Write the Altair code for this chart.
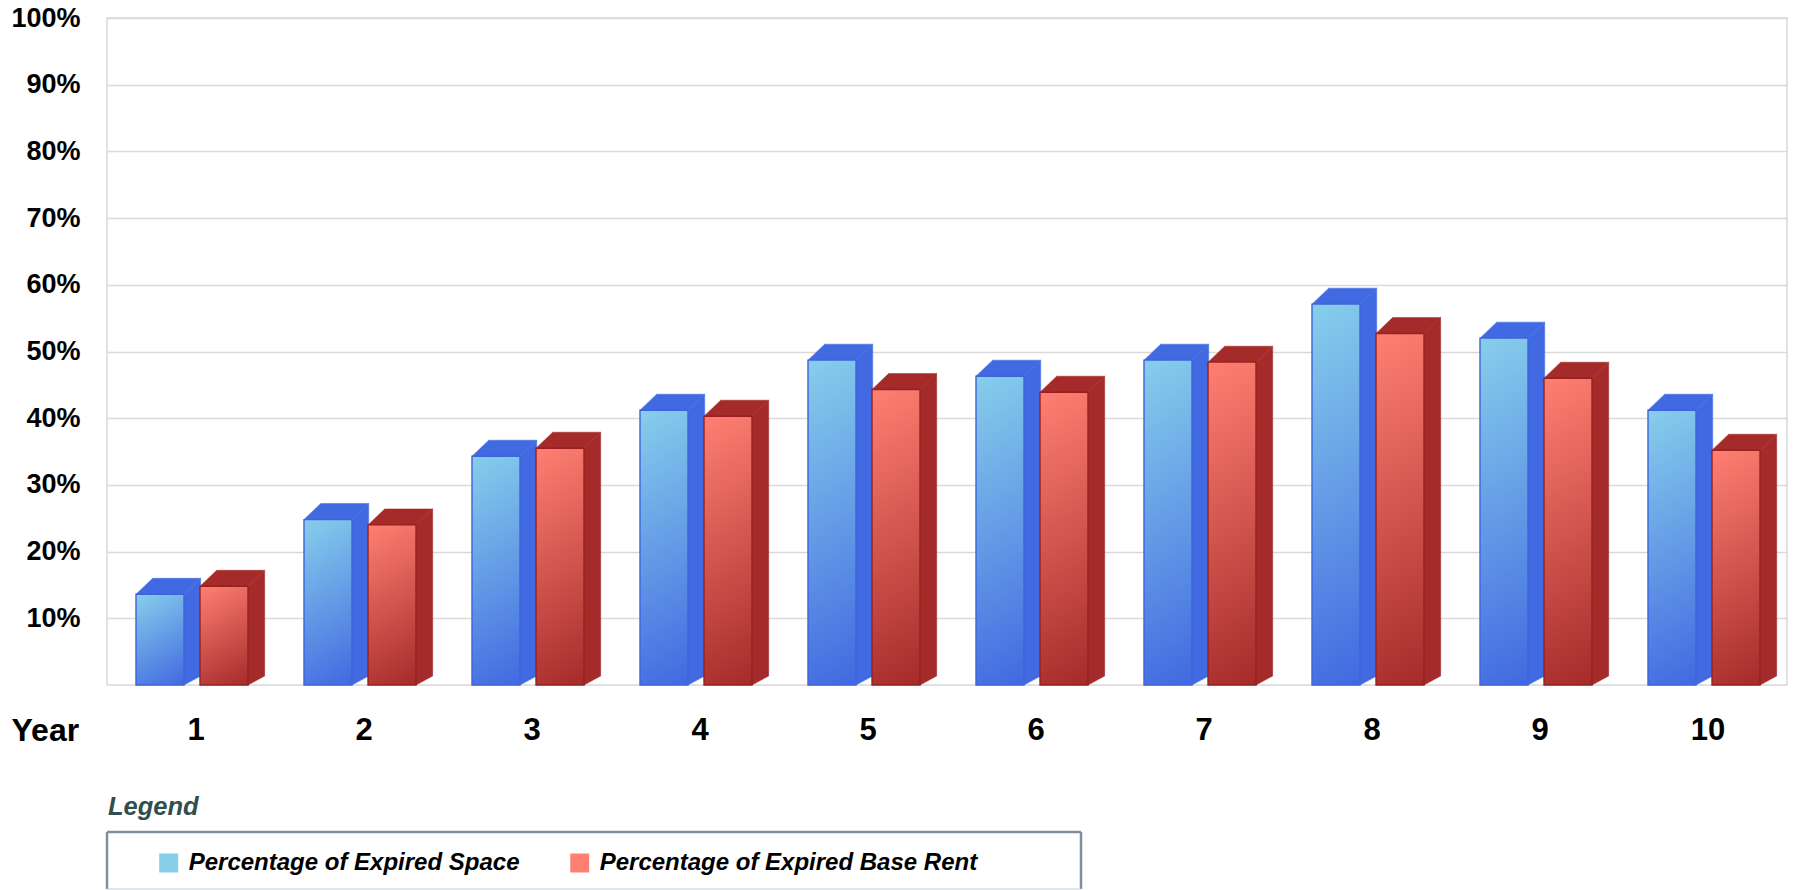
import altair as alt
import pandas as pd

years = [1, 2, 3, 4, 5, 6, 7, 8, 9, 10]
expired_space = [13.6, 24.8, 34.3, 41.2, 48.7, 46.3, 48.7, 57.1, 52.0, 41.2]
expired_rent = [14.8, 24.0, 35.5, 40.3, 44.3, 43.9, 48.4, 52.7, 46.0, 35.2]
space_name = "Percentage of Expired Space"
rent_name = "Percentage of Expired Base Rent"
pct_ticks = [10, 20, 30, 40, 50, 60, 70, 80, 90, 100]

FONT = "Liberation Sans"

# Bar placement inside each year's slot, in year units, and the extrusion depth.
SPACE_START, RENT_START, BAR_WIDTH = -0.3274, 0.0536, 0.2857
DEPTH_X, DEPTH_Y, BASE_RISE = 0.0994, 2.4, 1.35

# Shading runs at a fixed slant, so shorter bars show a stronger diagonal.
SHADE_SLANT = 4.3  # percent of height per bar width


def front_faces(values, start):
    return pd.DataFrame(
        [
            {"year": y, "x0": y + start, "x1": y + start + BAR_WIDTH, "top": v, "base": 0}
            for y, v in zip(years, values)
        ]
    )


def extruded_faces(values, start):
    rows = []
    for y, v in zip(years, values):
        x0 = y + start
        x1 = x0 + BAR_WIDTH
        # Roof parallelogram
        for x, lo, hi in [
            (x0, v, v),
            (x0 + DEPTH_X, v, v + DEPTH_Y),
            (x1, v, v + DEPTH_Y),
            (x1 + DEPTH_X, v + DEPTH_Y, v + DEPTH_Y),
        ]:
            rows.append({"face": f"roof-{y}", "x": x, "lo": lo, "hi": hi})
        # Right-hand side parallelogram
        for x, lo, hi in [(x1, 0, v), (x1 + DEPTH_X, BASE_RISE, v + DEPTH_Y)]:
            rows.append({"face": f"side-{y}", "x": x, "lo": lo, "hi": hi})
    return pd.DataFrame(rows)


x_scale = alt.Scale(domain=[0.5, 10.5], nice=False, zero=False)
y_scale = alt.Scale(domain=[0, 100], nice=False)


def shaded_bar(row, light, dark, edge):
    a = SHADE_SLANT / row["top"]
    s = (a + 1) / (a * a + 1)
    return (
        alt.Chart(pd.DataFrame([row]))
        .mark_rect(
            fill=alt.Gradient(
                gradient="linear",
                x1=0,
                y1=0,
                x2=a * s,
                y2=s,
                stops=[
                    alt.GradientStop(color=light, offset=0),
                    alt.GradientStop(color=dark, offset=1),
                ],
            ),
            stroke=edge,
            strokeWidth=1.4,
        )
        .encode(
            x=alt.X("x0:Q", scale=x_scale),
            x2="x1:Q",
            y=alt.Y("top:Q", scale=y_scale),
            y2="base:Q",
        )
    )


def series_layers(name, values, start, light, dark, edge):
    faces = (
        alt.Chart(extruded_faces(values, start))
        .mark_area(orient="vertical", color=dark, stroke=dark, strokeWidth=0.5)
        .encode(
            x=alt.X("x:Q", scale=x_scale),
            y=alt.Y("hi:Q", scale=y_scale),
            y2="lo:Q",
            detail="face:N",
        )
    )
    front = front_faces(values, start).assign(series=name)
    solid = (
        alt.Chart(front)
        .mark_rect()
        .encode(
            x=alt.X("x0:Q", scale=x_scale),
            x2="x1:Q",
            y=alt.Y("top:Q", scale=y_scale),
            y2="base:Q",
            color=alt.Color(
                "series:N",
                scale=alt.Scale(
                    domain=[space_name, rent_name], range=["#87CEEB", "#FF8072"]
                ),
                legend=alt.Legend(
                    orient="none",
                    legendX=49.7,
                    legendY=833,
                    direction="horizontal",
                    title=None,
                    symbolType="square",
                    symbolSize=361,
                    symbolStrokeWidth=0,
                    labelFont=FONT,
                    labelFontSize=24,
                    labelFontWeight="bold",
                    labelFontStyle="italic",
                    labelColor="black",
                    labelLimit=500,
                    labelOffset=8,
                    columnPadding=48,
                    padding=0,
                ),
            ),
        )
    )
    shaded = [
        shaded_bar(row, light, dark, edge)
        for row in front.drop(columns="series").to_dict("records")
    ]
    return [faces, solid, *shaded]


# Empty layer that only carries the axes.
axes = (
    alt.Chart(pd.DataFrame({"year": years, "pct": [0] * len(years)}))
    .mark_point(opacity=0)
    .encode(
        x=alt.X(
            "year:Q",
            scale=x_scale,
            axis=alt.Axis(
                values=years,
                format="d",
                grid=False,
                domain=False,
                ticks=False,
                labelFont=FONT,
                labelFontSize=31,
                labelFontWeight="bold",
                labelColor="black",
                labelPadding=30,
                labelOffset=4.5,
                labelFlush=False,
                title="Year",
                titleFont=FONT,
                titleFontSize=32,
                titleFontWeight="bold",
                titleColor="black",
                titleAnchor="start",
                titleAlign="left",
                titleBaseline="alphabetic",
                titleX=-96,
                titleY=55,
            ),
        ),
        y=alt.Y(
            "pct:Q",
            scale=y_scale,
            axis=alt.Axis(
                values=pct_ticks,
                labelExpr="datum.value + '%'",
                grid=True,
                gridColor="#D9D9D9",
                gridWidth=1.5,
                domain=False,
                ticks=False,
                labelFont=FONT,
                labelFontSize=27,
                labelFontWeight="bold",
                labelColor="black",
                labelPadding=27,
                title=None,
            ),
        ),
    )
)

# Legend heading and its frame, placed under the plot.
legend_title = (
    alt.Chart(pd.DataFrame({"t": ["Legend"]}))
    .mark_text(
        font=FONT,
        fontSize=25.5,
        fontWeight="bold",
        fontStyle="italic",
        color="#2F4F4F",
        align="left",
        baseline="alphabetic",
    )
    .encode(text="t:N", x=alt.value(1), y=alt.value(797))
)


def frame_rule(x, x2, y, y2, color, width):
    return (
        alt.Chart(pd.DataFrame({"k": [0]}))
        .mark_rule(color=color, strokeWidth=width)
        .encode(x=alt.value(x), x2=alt.value(x2), y=alt.value(y), y2=alt.value(y2))
    )


frame = [
    frame_rule(0, 974, 814, 814, "#7F8FA0", 2.5),
    frame_rule(0, 0, 814, 871, "#7F8FA0", 2.5),
    frame_rule(974, 974, 814, 871, "#7F8FA0", 2.5),
    frame_rule(0, 974, 871, 871, "#C8CDD2", 1),
]

chart = (
    alt.layer(
        axes,
        *series_layers(space_name, expired_space, SPACE_START, "#87CEEB", "#4169E1", "#3F63D8"),
        *series_layers(rent_name, expired_rent, RENT_START, "#FF8072", "#A52A2A", "#98201F"),
        *frame,
        legend_title,
    )
    .resolve_scale(color="shared")
    .properties(
        width=1680,
        height=667,
        autosize="none",
        padding={"left": 107, "top": 18, "right": 7, "bottom": 205},
        background="white",
    )
    .configure_view(stroke="#D9D9D9", strokeWidth=1.5)
)

chart.save("out.html", embed_options={"renderer": "svg", "actions": False})
